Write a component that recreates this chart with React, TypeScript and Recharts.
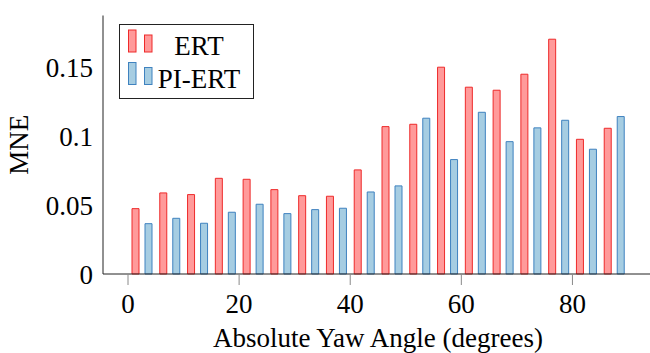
import { ComposedChart, Bar, XAxis, YAxis, Legend } from "recharts";

// bin centres (5 degree bins)
const angles = [2.5, 7.5, 12.5, 17.5, 22.5, 27.5, 32.5, 37.5, 42.5, 47.5, 52.5, 57.5, 62.5, 67.5, 72.5, 77.5, 82.5, 87.5];
const ertValues = [0.0474, 0.0588, 0.0576, 0.0694, 0.0687, 0.0612, 0.0568, 0.0564, 0.0755, 0.1069, 0.1086, 0.15, 0.1355, 0.1333, 0.1449, 0.1703, 0.0977, 0.1057];
const piErtValues = [0.0365, 0.0404, 0.0368, 0.0448, 0.0506, 0.0438, 0.0467, 0.0477, 0.0595, 0.0639, 0.113, 0.083, 0.1173, 0.096, 0.106, 0.1115, 0.0905, 0.1142];
const xTicks = [0, 20, 40, 60, 80];
const yTicks = [0, 0.05, 0.1, 0.15];

const data = angles.map((angle, i) => ({ angle, ert: ertValues[i], piErt: piErtValues[i] }));

const FONT = "Liberation Serif, serif";
const FS = 27;
const ERT_FILL = "#ff9a9a";
const ERT_STROKE = "#ee2a2a";
const PI_FILL = "#a6cde2";
const PI_STROKE = "#3f82bf";
const TICK_GRAY = "#8a8a8a";

const strokes: Record<string, string> = { ERT: ERT_STROKE, "PI-ERT": PI_STROKE };

const LegendBox = ({ payload }: any) => (
  <svg width={135} height={75} style={{ display: "block" }}>
    <rect x={0.5} y={0.5} width={134} height={74} fill="#fff" stroke="#222" />
    {(payload || []).map((p: any, i: number) => {
      const base = 28 + i * 32.5;
      const stroke = strokes[p.value];
      return (
        <g key={p.value}>
          <rect x={9.5} y={base - 22} width={7.5} height={22} fill={p.color} stroke={stroke} />
          <rect x={25.5} y={base - 17} width={7.5} height={17} fill={p.color} stroke={stroke} />
          <text x={80} y={base + 3} textAnchor="middle" fontSize={FS} fontFamily={FONT} fill="#000">
            {p.value}
          </text>
        </g>
      );
    })}
  </svg>
);

export default function App() {
  return (
    <div style={{ position: "absolute", left: 0, top: 0, width: 650, height: 353, overflow: "hidden", background: "#fff", fontFamily: FONT }}>
      <ComposedChart width={660} height={353} data={data} margin={{ top: 15.5, right: 7, left: 0, bottom: 0 }} barSize={7} barGap={6} style={{ fontFamily: FONT }}>
        <XAxis
          dataKey="angle"
          type="number"
          domain={[-4.5, 94.5]}
          ticks={xTicks}
          interval={0}
          height={79}
          tickSize={11}
          tickMargin={9}
          tickLine={{ stroke: TICK_GRAY }}
          axisLine={{ stroke: "#222" }}
          tick={{ fill: "#000", fontSize: FS, fontFamily: FONT }}
          label={{ value: "Absolute Yaw Angle (degrees)", position: "insideBottom", offset: 6, fill: "#000", fontSize: FS, fontFamily: FONT }}
        />
        <XAxis
          xAxisId="top"
          orientation="top"
          type="number"
          domain={[-4.5, 94.5]}
          ticks={xTicks}
          interval={0}
          height={0}
          tick={false}
          tickSize={11}
          tickLine={{ stroke: TICK_GRAY }}
          axisLine={{ stroke: "#555", strokeWidth: 1.5 }}
        />
        <YAxis
          yAxisId="left"
          type="number"
          domain={[0, 0.1875]}
          ticks={yTicks}
          interval={0}
          width={103}
          tickLine={false}
          tickSize={0}
          tickMargin={10}
          axisLine={{ stroke: "#222" }}
          tick={{ fill: "#000", fontSize: FS, fontFamily: FONT }}
          label={{ value: "MNE", angle: -90, position: "insideLeft", offset: 18, fill: "#000", fontSize: FS, fontFamily: FONT, style: { textAnchor: "middle" } }}
        />
        <YAxis
          yAxisId="leftTicks"
          orientation="left"
          mirror
          width={0}
          type="number"
          domain={[0, 0.1875]}
          ticks={yTicks}
          interval={0}
          tick={false}
          tickSize={12}
          tickLine={{ stroke: TICK_GRAY }}
          axisLine={false}
        />
        <YAxis
          yAxisId="right"
          orientation="right"
          mirror
          width={0}
          type="number"
          domain={[0, 0.1875]}
          ticks={yTicks}
          interval={0}
          tick={false}
          tickSize={11}
          tickLine={{ stroke: TICK_GRAY }}
          axisLine={{ stroke: "#555" }}
        />
        <Legend
          layout="horizontal"
          verticalAlign="middle"
          align="center"
          wrapperStyle={{ left: 119, top: 24, width: 135, height: 75 }}
          content={<LegendBox />}
        />
        <Bar yAxisId="left" dataKey="ert" name="ERT" fill={ERT_FILL} stroke={ERT_STROKE} strokeWidth={1} isAnimationActive={false} />
        <Bar yAxisId="left" dataKey="piErt" name="PI-ERT" fill={PI_FILL} stroke={PI_STROKE} strokeWidth={1} isAnimationActive={false} />
      </ComposedChart>
    </div>
  );
}
